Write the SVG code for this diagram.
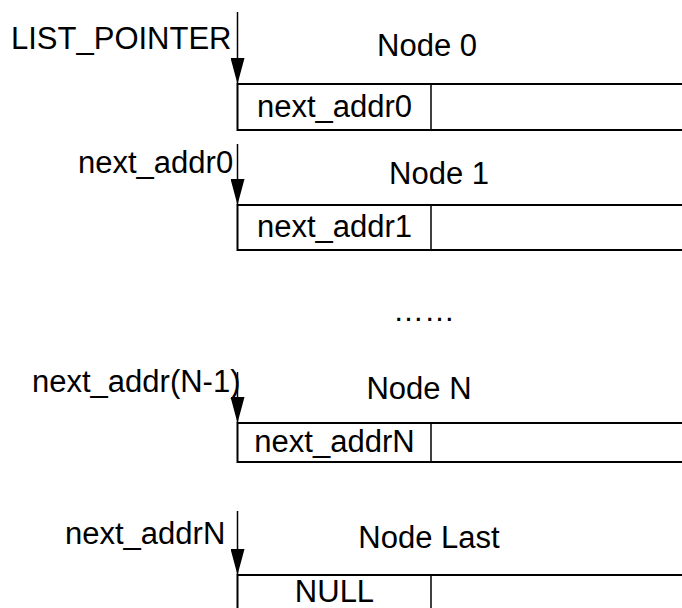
<svg xmlns="http://www.w3.org/2000/svg" width="682" height="608" viewBox="0 0 682 608">
  <style>
    text { font-family: "Liberation Sans", Arial, sans-serif; font-size: 31px; fill: #000; }
    .mid { text-anchor: middle; }
    .box { fill: #fff; stroke: #000; stroke-width: 2; }
    .div { stroke: #000; stroke-width: 1.5; }
    .ptr { stroke: #000; stroke-width: 1.5; fill: none; marker-end: url(#arrow); }
  </style>
  <defs>
    <marker id="arrow" viewBox="0 0 26 14" refX="26" refY="7" markerWidth="26" markerHeight="14" orient="auto" markerUnits="userSpaceOnUse">
      <path d="M0,0 L26,7 L0,14 z" fill="#000"/>
    </marker>
  </defs>
  <rect width="682" height="608" fill="#fff"/>

  <g id="node0">
    <rect class="box" x="237.5" y="84" width="470" height="46"/>
    <line class="div" x1="431" y1="84" x2="431" y2="130"/>
    <text class="mid" x="334.5" y="117">next_addr0</text>
    <text class="mid" x="427" y="56">Node 0</text>
  </g>

  <g id="node1">
    <rect class="box" x="237.5" y="205" width="470" height="45"/>
    <line class="div" x1="431" y1="205" x2="431" y2="250"/>
    <text class="mid" x="334.5" y="237">next_addr1</text>
    <text class="mid" x="439" y="184">Node 1</text>
  </g>

  <text id="ellipsis" x="393" y="321">……</text>

  <g id="nodeN">
    <rect class="box" x="237.5" y="423" width="470" height="39"/>
    <line class="div" x1="431" y1="423" x2="431" y2="462"/>
    <text class="mid" x="334.5" y="452">next_addrN</text>
    <text class="mid" x="419" y="399">Node N</text>
  </g>

  <g id="nodeLast">
    <rect class="box" x="237.5" y="575" width="470" height="50"/>
    <line class="div" x1="431" y1="575" x2="431" y2="625"/>
    <text class="mid" x="334.5" y="602">NULL</text>
    <text class="mid" x="429" y="548">Node Last</text>
  </g>

  <g id="connectors">
    <line class="ptr" x1="237.5" y1="12" x2="237.5" y2="84"/>
    <text x="11" y="49">LIST_POINTER</text>
    <line class="ptr" x1="237.5" y1="144" x2="237.5" y2="205"/>
    <text x="78" y="173">next_addr0</text>
    <line class="ptr" x1="237.5" y1="372" x2="237.5" y2="423"/>
    <text x="32" y="392">next_addr(N-1)</text>
    <line class="ptr" x1="237.5" y1="511" x2="237.5" y2="575"/>
    <text x="65" y="544">next_addrN</text>
  </g>
</svg>
